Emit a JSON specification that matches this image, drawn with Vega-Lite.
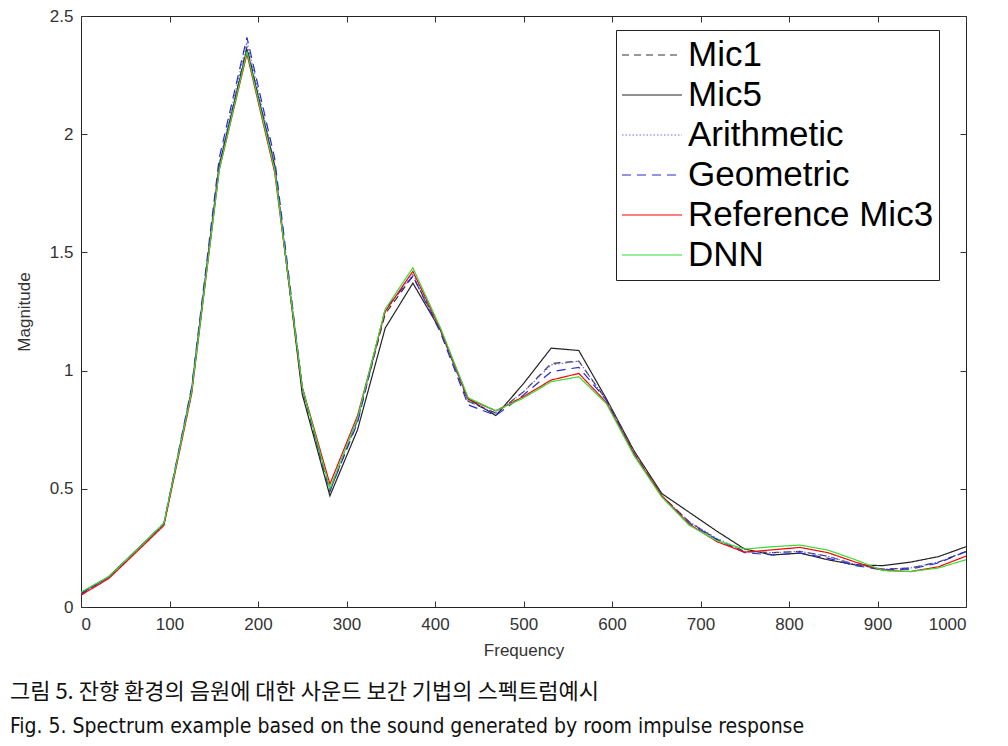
{
  "$schema": "https://vega.github.io/schema/vega-lite/v6.json",
  "autosize": {"type": "none"},
  "width": 885,
  "height": 591,
  "padding": {"left": 81, "top": 16, "right": 42, "bottom": 139},
  "background": "white",
  "config": {
    "font": "Liberation Sans",
    "view": {"stroke": "#222", "strokeWidth": 1},
    "axis": {"grid": false, "domain": false, "labelFont": "Liberation Sans", "labelFontSize": 17, "labelColor": "#333", "tickColor": "#333", "tickSize": -6, "titleFont": "Liberation Sans", "titleFontSize": 17, "titleFontWeight": "normal", "titleColor": "#333"}
  },
  "title": {
    "text": "그림 5.  잔향 환경의 음원에 대한 사운드 보간 기법의 스펙트럼예시",
    "subtitle": "Fig. 5. Spectrum example based on the sound generated by room impulse response",
    "orient": "bottom",
    "anchor": "start",
    "frame": "group",
    "dx": -71,
    "offset": 24,
    "font": "Noto Sans CJK KR",
    "fontSize": 22,
    "fontWeight": "normal",
    "color": "#111",
    "subtitleFont": "DejaVu Sans Condensed, Liberation Sans",
    "subtitleFontSize": 21,
    "subtitleColor": "#111",
    "subtitlePadding": 12
  },
  "data": {
    "values": [
      {"f": 0, "Mic1": 0.055, "Mic5": 0.06, "Arithmetic": 0.058, "Geometric": 0.058, "Reference Mic3": 0.05, "DNN": 0.063},
      {"f": 31.25, "Mic1": 0.125, "Mic5": 0.128, "Arithmetic": 0.126, "Geometric": 0.126, "Reference Mic3": 0.12, "DNN": 0.128},
      {"f": 62.5, "Mic1": 0.238, "Mic5": 0.24, "Arithmetic": 0.238, "Geometric": 0.24, "Reference Mic3": 0.232, "DNN": 0.24},
      {"f": 93.75, "Mic1": 0.352, "Mic5": 0.352, "Arithmetic": 0.353, "Geometric": 0.355, "Reference Mic3": 0.345, "DNN": 0.355},
      {"f": 125, "Mic1": 0.91, "Mic5": 0.92, "Arithmetic": 0.92, "Geometric": 0.93, "Reference Mic3": 0.9, "DNN": 0.91},
      {"f": 156.25, "Mic1": 1.86, "Mic5": 1.87, "Arithmetic": 1.88, "Geometric": 1.9, "Reference Mic3": 1.85, "DNN": 1.85},
      {"f": 187.5, "Mic1": 2.37, "Mic5": 2.36, "Arithmetic": 2.39, "Geometric": 2.41, "Reference Mic3": 2.34, "DNN": 2.35},
      {"f": 218.75, "Mic1": 1.86, "Mic5": 1.87, "Arithmetic": 1.88, "Geometric": 1.9, "Reference Mic3": 1.84, "DNN": 1.85},
      {"f": 250, "Mic1": 0.92, "Mic5": 0.9, "Arithmetic": 0.93, "Geometric": 0.93, "Reference Mic3": 0.93, "DNN": 0.93},
      {"f": 281.25, "Mic1": 0.49, "Mic5": 0.47, "Arithmetic": 0.5, "Geometric": 0.49, "Reference Mic3": 0.52, "DNN": 0.5},
      {"f": 312.5, "Mic1": 0.79, "Mic5": 0.75, "Arithmetic": 0.79, "Geometric": 0.78, "Reference Mic3": 0.81, "DNN": 0.8},
      {"f": 343.75, "Mic1": 1.24, "Mic5": 1.18, "Arithmetic": 1.25, "Geometric": 1.26, "Reference Mic3": 1.25, "DNN": 1.26},
      {"f": 375, "Mic1": 1.4, "Mic5": 1.37, "Arithmetic": 1.41, "Geometric": 1.4, "Reference Mic3": 1.42, "DNN": 1.435},
      {"f": 406.25, "Mic1": 1.17, "Mic5": 1.17, "Arithmetic": 1.17, "Geometric": 1.16, "Reference Mic3": 1.175, "DNN": 1.18},
      {"f": 437.5, "Mic1": 0.87, "Mic5": 0.88, "Arithmetic": 0.87, "Geometric": 0.855, "Reference Mic3": 0.88, "DNN": 0.885},
      {"f": 468.75, "Mic1": 0.82, "Mic5": 0.81, "Arithmetic": 0.82, "Geometric": 0.81, "Reference Mic3": 0.83, "DNN": 0.83},
      {"f": 500, "Mic1": 0.91, "Mic5": 0.945, "Arithmetic": 0.91, "Geometric": 0.897, "Reference Mic3": 0.89, "DNN": 0.884},
      {"f": 531.25, "Mic1": 1.03, "Mic5": 1.095, "Arithmetic": 1.024, "Geometric": 0.995, "Reference Mic3": 0.96, "DNN": 0.953},
      {"f": 562.5, "Mic1": 1.04, "Mic5": 1.085, "Arithmetic": 1.04, "Geometric": 1.014, "Reference Mic3": 0.988, "DNN": 0.974},
      {"f": 593.75, "Mic1": 0.875, "Mic5": 0.88, "Arithmetic": 0.875, "Geometric": 0.875, "Reference Mic3": 0.865, "DNN": 0.86},
      {"f": 625, "Mic1": 0.65, "Mic5": 0.66, "Arithmetic": 0.65, "Geometric": 0.645, "Reference Mic3": 0.645, "DNN": 0.64},
      {"f": 656.25, "Mic1": 0.47, "Mic5": 0.48, "Arithmetic": 0.47, "Geometric": 0.47, "Reference Mic3": 0.47, "DNN": 0.465},
      {"f": 687.5, "Mic1": 0.36, "Mic5": 0.4, "Arithmetic": 0.36, "Geometric": 0.355, "Reference Mic3": 0.35, "DNN": 0.345},
      {"f": 718.75, "Mic1": 0.285, "Mic5": 0.32, "Arithmetic": 0.29, "Geometric": 0.285, "Reference Mic3": 0.276, "DNN": 0.28},
      {"f": 750, "Mic1": 0.235, "Mic5": 0.245, "Arithmetic": 0.235, "Geometric": 0.23, "Reference Mic3": 0.232, "DNN": 0.245},
      {"f": 781.25, "Mic1": 0.23, "Mic5": 0.22, "Arithmetic": 0.23, "Geometric": 0.22, "Reference Mic3": 0.242, "DNN": 0.255},
      {"f": 812.5, "Mic1": 0.235, "Mic5": 0.228, "Arithmetic": 0.235, "Geometric": 0.228, "Reference Mic3": 0.252, "DNN": 0.262},
      {"f": 843.75, "Mic1": 0.215, "Mic5": 0.2, "Arithmetic": 0.215, "Geometric": 0.207, "Reference Mic3": 0.23, "DNN": 0.241},
      {"f": 875, "Mic1": 0.18, "Mic5": 0.178, "Arithmetic": 0.18, "Geometric": 0.175, "Reference Mic3": 0.19, "DNN": 0.2},
      {"f": 906.25, "Mic1": 0.16, "Mic5": 0.175, "Arithmetic": 0.16, "Geometric": 0.157, "Reference Mic3": 0.155, "DNN": 0.154},
      {"f": 937.5, "Mic1": 0.165, "Mic5": 0.19, "Arithmetic": 0.165, "Geometric": 0.16, "Reference Mic3": 0.15, "DNN": 0.15},
      {"f": 968.75, "Mic1": 0.19, "Mic5": 0.213, "Arithmetic": 0.19, "Geometric": 0.186, "Reference Mic3": 0.17, "DNN": 0.165},
      {"f": 1000, "Mic1": 0.235, "Mic5": 0.255, "Arithmetic": 0.235, "Geometric": 0.234, "Reference Mic3": 0.215, "DNN": 0.2}
    ]
  },
  "transform": [
    {"fold": ["Mic1", "Mic5", "Arithmetic", "Geometric", "Reference Mic3", "DNN"], "as": ["series", "m"]}
  ],
  "layer": [
    {
      "mark": {"type": "line", "clip": true},
      "encoding": {
        "x": {"field": "f", "type": "quantitative", "scale": {"domain": [0, 1000], "nice": false}, "axis": {"title": "Frequency", "values": [0,100,200,300,400,500,600,700,800,900,1000], "format": "d", "labelPadding": 15, "titlePadding": 10}},
        "y": {"field": "m", "type": "quantitative", "scale": {"domain": [0, 2.5], "nice": false}, "axis": {"title": "Magnitude", "values": [0,0.5,1,1.5,2,2.5], "format": "~g", "labelPadding": 14, "titlePadding": 16}},
        "color": {"field": "series", "type": "nominal", "scale": {"domain": ["Mic1", "Mic5", "Arithmetic", "Geometric", "Reference Mic3", "DNN"], "range": ["#333333", "#222222", "#6a6aff", "#2a2ad0", "#ff0000", "#33dd33"]}, "legend": {"title": null, "orient": "none", "legendX": 535, "legendY": 14, "symbolType": "stroke", "symbolSize": 3600, "symbolStrokeWidth": 1.5, "labelFont": "Liberation Sans", "labelFontSize": 35, "labelColor": "#000", "labelLimit": 400, "labelOffset": 5, "clipHeight": 40, "rowPadding": 0, "padding": 5, "strokeColor": "#222", "fillColor": "white"}},
        "strokeDash": {"field": "series", "type": "nominal", "scale": {"domain": ["Mic1", "Mic5", "Arithmetic", "Geometric", "Reference Mic3", "DNN"], "range": [[7,5], [1,0], [1.5,2], [9,6], [1,0], [1,0]]}, "legend": {"title": null}},
        "strokeWidth": {"field": "series", "type": "nominal", "scale": {"domain": ["Mic1", "Mic5", "Arithmetic", "Geometric", "Reference Mic3", "DNN"], "range": [1.2, 1.2, 1.2, 1.4, 2, 1.6]}, "legend": null},
        "order": {"field": "f", "type": "quantitative"}
      }
    },
    {
      "mark": {"type": "rule", "opacity": 0},
      "encoding": {
        "x": {"field": "f", "type": "quantitative", "axis": {"orient": "top", "title": null, "labels": false, "values": [0,100,200,300,400,500,600,700,800,900,1000]}},
        "y": {"field": "m", "type": "quantitative", "axis": {"orient": "right", "title": null, "labels": false, "values": [0,0.5,1,1.5,2,2.5]}}
      }
    }
  ],
  "resolve": {"axis": {"x": "independent", "y": "independent"}}
}
